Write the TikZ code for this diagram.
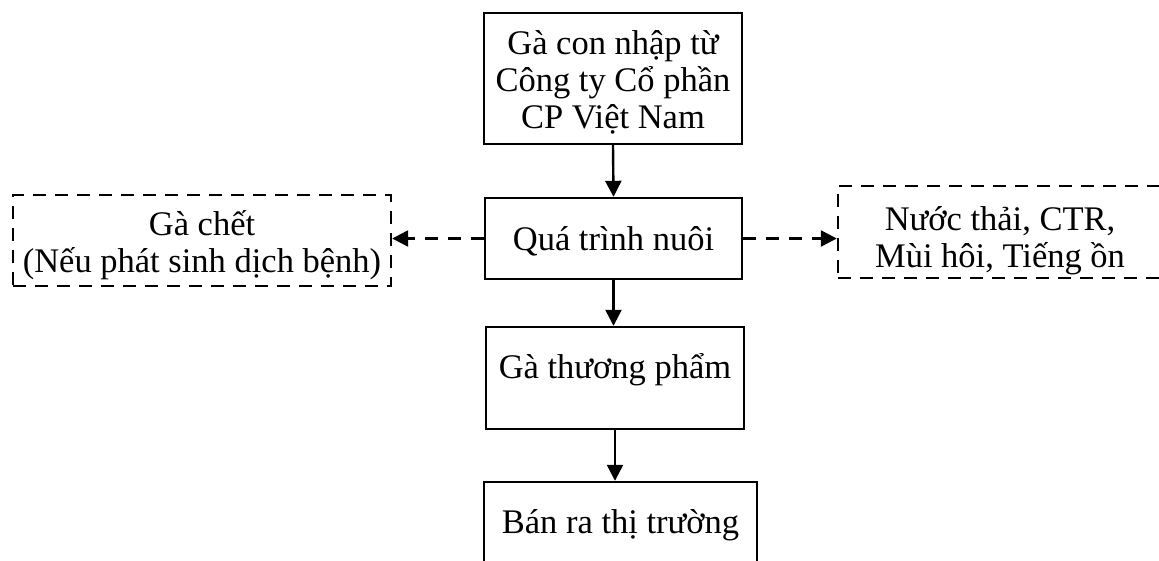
\documentclass[tikz,border=0pt]{standalone}
\usepackage{fontspec}
\setmainfont{Liberation Serif}
\usetikzlibrary{arrows.meta}
\newcommand\shiftedtext[2]{\raisebox{#1}[\height][\depth]{\begin{tabular}{@{}c@{}}#2\end{tabular}}}
\begin{document}
\begin{tikzpicture}[x=1pt,y=-1pt,
  box/.style={draw,line width=2.4pt,rectangle,inner sep=0pt,align=center,
    font=\fontsize{34.5}{37}\selectfont},
  dbox/.style={box,dash pattern=on 13pt off 9pt},
  arr/.style={line width=2.4pt,-{Triangle[width=16pt,length=16pt]}},
  darr/.style={arr,dash pattern=on 13pt off 10pt}]
\clip (0,0) rectangle (1159,560);
\useasboundingbox (0,0) rectangle (1159,560);
\node[box,minimum width=258,minimum height=131] (top) at (613,78.5)
  {\shiftedtext{-5.5pt}{Gà con nhập từ\\Công ty Cổ phần\\CP Việt Nam}};
\node[box,minimum width=257,minimum height=81] (mid) at (613.5,238.5)
  {\shiftedtext{-5pt}{Quá trình nuôi}};
\node[dbox,minimum width=378,minimum height=91] (left) at (202,240.5)
  {\shiftedtext{-6pt}{Gà chết\\(Nếu phát sinh dịch bệnh)}};
\node[dbox,minimum width=324,minimum height=92] (right) at (1000,232)
  {\shiftedtext{-10pt}{Nước thải, CTR,\\Mùi hôi, Tiếng ồn}};
\node[box,minimum width=258,minimum height=102] (gtp) at (615,378)
  {\shiftedtext{7pt}{Gà thương phẩm}};
\node[box,minimum width=273,minimum height=100] (sell) at (620.5,532)
  {\shiftedtext{6pt}{Bán ra thị trường}};
\draw[arr] (top.south) -- (mid.north);
\draw[arr] (mid.south) -- (mid.south |- gtp.north);
\draw[arr] (gtp.south) -- (gtp.south |- sell.north);
\draw[darr] (mid.west) -- (mid.west -| left.east);
\draw[darr] (mid.east) -- (mid.east -| right.west);
\end{tikzpicture}
\end{document}
